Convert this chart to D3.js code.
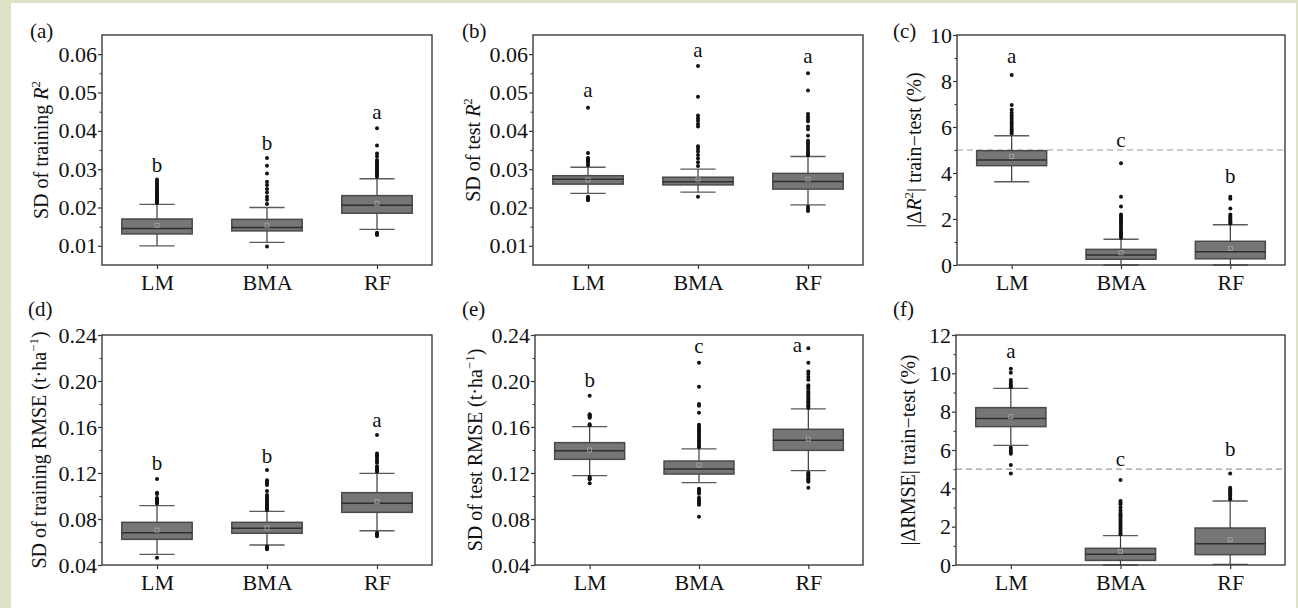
<!DOCTYPE html>
<html>
<head>
<meta charset="utf-8">
<script src="https://cdn.jsdelivr.net/npm/d3@7"></script>
<style>
  body { margin: 0; background: #fff; }
  text { font-family: "Liberation Serif", "Times New Roman", serif; fill: #111; }
</style>
</head>
<body>
<svg id="chart" width="1298" height="608"></svg>
<script>
// Models compared in every panel
const categories = ["LM", "BMA", "RF"];

// Box statistics per model: [lower whisker, Q1, median, Q3, upper whisker, mean]
// (a) SD of training R2
const trainR2Box = [
  [0.0100, 0.0131, 0.0145, 0.0170, 0.0208, 0.0153],
  [0.0109, 0.0139, 0.0148, 0.0169, 0.0200, 0.0154],
  [0.0143, 0.0185, 0.0206, 0.0231, 0.0275, 0.0211]
];
const trainR2Outliers = [
  [0.0273, 0.0268, 0.0263, 0.0258, 0.0254, 0.0250, 0.0247, 0.0244, 0.0241, 0.0238, 0.0235, 0.0232,
   0.0229, 0.0226, 0.0224, 0.0222, 0.0220, 0.0218, 0.0216, 0.0214, 0.0212],
  [0.0329, 0.0309, 0.0289, 0.0267, 0.0259, 0.0248, 0.0239, 0.0228, 0.0220, 0.0209, 0.0098],
  [0.0407, 0.0362, 0.0341, 0.0334, 0.0324, 0.0320, 0.0316, 0.0312, 0.0308, 0.0304, 0.0300, 0.0296,
   0.0292, 0.0288, 0.0284, 0.0280, 0.0134, 0.0131, 0.0128]
];
const trainR2Letters = ["b", "b", "a"];
const trainR2LetterAt = [0.0293, 0.0350, 0.0431];

// (b) SD of test R2
const testR2Box = [
  [0.0237, 0.0261, 0.0274, 0.0283, 0.0305, 0.0272],
  [0.0240, 0.0259, 0.0267, 0.0279, 0.0300, 0.0274],
  [0.0207, 0.0248, 0.0268, 0.0289, 0.0333, 0.0274]
];
const testR2Outliers = [
  [0.0460, 0.0342, 0.0329, 0.0326, 0.0323, 0.0320, 0.0316, 0.0310, 0.0228, 0.0225, 0.0222, 0.0219],
  [0.0569, 0.0489, 0.0440, 0.0433, 0.0426, 0.0418, 0.0411, 0.0360, 0.0353, 0.0346, 0.0337, 0.0328,
   0.0318, 0.0308, 0.0228],
  [0.0550, 0.0505, 0.0444, 0.0437, 0.0431, 0.0425, 0.0411, 0.0404, 0.0387, 0.0374, 0.0369, 0.0363,
   0.0357, 0.0351, 0.0345, 0.0340, 0.0336, 0.0202, 0.0196, 0.0191]
];
const testR2Letters = ["a", "a", "a"];
const testR2LetterAt = [0.0488, 0.0592, 0.0576];

// (c) |dR2| train-test (%)
const diffR2Box = [
  [3.62, 4.32, 4.57, 4.97, 5.62, 4.71],
  [0.00, 0.25, 0.43, 0.68, 1.12, 0.53],
  [0.00, 0.27, 0.58, 1.03, 1.75, 0.72]
];
const diffR2Outliers = [
  [8.26, 6.96, 6.75, 6.62, 6.50, 6.40, 6.30, 6.20, 6.10, 6.00, 5.90, 5.80, 5.72],
  [4.42, 2.97, 2.54, 2.20, 2.12, 2.05, 1.98, 1.90, 1.82, 1.74, 1.66, 1.58, 1.50, 1.42, 1.34, 1.26, 1.18],
  [2.97, 2.88, 2.46, 2.20, 2.13, 2.06, 2.00, 1.93, 1.86, 1.80]
];
const diffR2Letters = ["a", "c", "b"];
const diffR2LetterAt = [8.77, 5.14, 3.55];

// (d) SD of training RMSE (t/ha)
const trainRmseBox = [
  [0.0493, 0.0623, 0.0681, 0.0771, 0.0916, 0.0704],
  [0.0574, 0.0676, 0.0719, 0.0771, 0.0867, 0.0722],
  [0.0698, 0.0858, 0.0937, 0.1029, 0.1197, 0.0951]
];
const trainRmseOutliers = [
  [0.1148, 0.1029, 0.1017, 0.0983, 0.0975, 0.0966, 0.0958, 0.0950, 0.0942, 0.0935, 0.0464],
  [0.1226, 0.1138, 0.1124, 0.1110, 0.1095, 0.1043, 0.1009, 0.0994, 0.0980, 0.0965, 0.0951, 0.0940,
   0.0930, 0.0920, 0.0910, 0.0900, 0.0890, 0.0878, 0.0560, 0.0553, 0.0545, 0.0537],
  [0.1530, 0.1370, 0.1355, 0.1340, 0.1320, 0.1300, 0.1290, 0.1258, 0.1245, 0.1232, 0.1220, 0.1210,
   0.0681, 0.0670, 0.0660, 0.0649]
];
const trainRmseLetters = ["b", "b", "a"];
const trainRmseLetterAt = [0.1226, 0.1290, 0.1597];

// (e) SD of test RMSE (t/ha)
const testRmseBox = [
  [0.1177, 0.1319, 0.1394, 0.1464, 0.1603, 0.1400],
  [0.1116, 0.1191, 0.1235, 0.1304, 0.1409, 0.1270],
  [0.1220, 0.1397, 0.1484, 0.1580, 0.1757, 0.1496]
];
const testRmseOutliers = [
  [0.1872, 0.1711, 0.1703, 0.1695, 0.1688, 0.1680, 0.1625, 0.1615, 0.1168, 0.1155, 0.1145, 0.1110],
  [0.2159, 0.1951, 0.1800, 0.1785, 0.1724, 0.1620, 0.1605, 0.1590, 0.1575, 0.1560, 0.1545, 0.1530,
   0.1515, 0.1500, 0.1485, 0.1470, 0.1455, 0.1440, 0.1425, 0.1064, 0.1050, 0.1035, 0.1020, 0.0985,
   0.0970, 0.0955, 0.0940, 0.0925, 0.0820],
  [0.2284, 0.2159, 0.2083, 0.2060, 0.2035, 0.2010, 0.1962, 0.1948, 0.1936, 0.1913, 0.1900, 0.1885,
   0.1870, 0.1855, 0.1840, 0.1825, 0.1810, 0.1795, 0.1780, 0.1765, 0.1202, 0.1190, 0.1178, 0.1166,
   0.1154, 0.1142, 0.1130, 0.1124, 0.1072]
];
const testRmseLetters = ["b", "c", "a"];
const testRmseLetterAt = [0.1950, 0.2246, 0.2250];

// (f) |dRMSE| train-test (%)
const diffRmseBox = [
  [6.24, 7.22, 7.65, 8.21, 9.22, 7.74],
  [0.00, 0.24, 0.56, 0.87, 1.53, 0.70],
  [0.03, 0.54, 1.11, 1.93, 3.34, 1.32]
];
const diffRmseOutliers = [
  [10.24, 10.03, 9.65, 9.55, 9.45, 9.35, 9.28, 6.12, 6.00, 5.90, 5.80, 5.22, 4.77],
  [4.43, 3.34, 3.25, 3.17, 3.00, 2.85, 2.70, 2.60, 2.50, 2.40, 2.30, 2.20, 2.10, 2.00, 1.90, 1.80, 1.70, 1.60],
  [4.78, 4.03, 3.95, 3.85, 3.77, 3.69, 3.60, 3.50, 3.43]
];
const diffRmseLetters = ["a", "c", "b"];
const diffRmseLetterAt = [10.82, 5.17, 5.69];

// Axis ticks
const sdR2Ticks = [0.01, 0.02, 0.03, 0.04, 0.05, 0.06];
const sdR2Minor = [0.015, 0.025, 0.035, 0.045, 0.055];
const diffR2Ticks = [0, 2, 4, 6, 8, 10];
const diffR2Minor = [1, 3, 5, 7, 9];
const sdRmseTicks = [0.04, 0.08, 0.12, 0.16, 0.20, 0.24];
const sdRmseMinor = [0.06, 0.10, 0.14, 0.18, 0.22];
const diffRmseTicks = [0, 2, 4, 6, 8, 10, 12];
const diffRmseMinor = [1, 3, 5, 7, 9, 11];

// Threshold drawn on the train-test difference panels (%)
const diffThreshold = 5;

// Axis titles as styled runs
const titleTrainR2 = [{t: "SD of training "}, {t: "R", it: true}, {t: "2", sup: true}];
const titleTestR2 = [{t: "SD of test "}, {t: "R", it: true}, {t: "2", sup: true}];
const titleDiffR2 = [{t: "|\u0394"}, {t: "R", it: true}, {t: "2", sup: true}, {t: "| train\u2212test (%)"}];
const titleTrainRmse = [{t: "SD of training RMSE (t\u00b7ha"}, {t: "\u22121", sup: true}, {t: ")"}];
const titleTestRmse = [{t: "SD of test RMSE (t\u00b7ha"}, {t: "\u22121", sup: true}, {t: ")"}];
const titleDiffRmse = [{t: "|\u0394RMSE| train\u2212test (%)"}];

const fmt2 = d3.format(".2f");
const fmt0 = d3.format("d");

const panels = [
  {tag: "(a)", box: trainR2Box, out: trainR2Outliers, letters: trainR2Letters, letterAt: trainR2LetterAt,
   domain: [0.005, 0.065], ticks: sdR2Ticks, minor: sdR2Minor, fmt: fmt2, title: titleTrainR2,
   left: 102, right: 432, top: 35, bottom: 265, titleX: 48, tagX: 30, tagY: 38},
  {tag: "(b)", box: testR2Box, out: testR2Outliers, letters: testR2Letters, letterAt: testR2LetterAt,
   domain: [0.005, 0.065], ticks: sdR2Ticks, minor: sdR2Minor, fmt: fmt2, title: titleTestR2,
   left: 533, right: 863, top: 35, bottom: 265, titleX: 480, tagX: 462, tagY: 38},
  {tag: "(c)", box: diffR2Box, out: diffR2Outliers, letters: diffR2Letters, letterAt: diffR2LetterAt,
   domain: [0, 10], ticks: diffR2Ticks, minor: diffR2Minor, fmt: fmt0, title: titleDiffR2,
   left: 957, right: 1285, top: 35, bottom: 265, titleX: 921, tagX: 893, tagY: 38, threshold: true},
  {tag: "(d)", box: trainRmseBox, out: trainRmseOutliers, letters: trainRmseLetters, letterAt: trainRmseLetterAt,
   domain: [0.04, 0.24], ticks: sdRmseTicks, minor: sdRmseMinor, fmt: fmt2, title: titleTrainRmse,
   left: 102, right: 432, top: 335, bottom: 565, titleX: 46, tagX: 28, tagY: 316},
  {tag: "(e)", box: testRmseBox, out: testRmseOutliers, letters: testRmseLetters, letterAt: testRmseLetterAt,
   domain: [0.04, 0.24], ticks: sdRmseTicks, minor: sdRmseMinor, fmt: fmt2, title: titleTestRmse,
   left: 535, right: 863, top: 335, bottom: 565, titleX: 482, tagX: 462, tagY: 316, letterShift: [0, 0, -11]},
  {tag: "(f)", box: diffRmseBox, out: diffRmseOutliers, letters: diffRmseLetters, letterAt: diffRmseLetterAt,
   domain: [0, 12], ticks: diffRmseTicks, minor: diffRmseMinor, fmt: fmt0, title: titleDiffRmse,
   left: 956, right: 1285, top: 335, bottom: 565, titleX: 915, tagX: 893, tagY: 316, threshold: true}
];

const svg = d3.select("#chart");
svg.append("rect").attr("width", 1298).attr("height", 608).attr("fill", "#dce3c5");
svg.append("rect").attr("x", 11).attr("y", 3).attr("width", 1285).attr("height", 605).attr("fill", "#ffffff");

const FS = 21;
const TICK_FS = 22;

panels.forEach(p => {
  const g = svg.append("g");
  const x = d3.scalePoint().domain(categories).range([p.left, p.right]).padding(0.5);
  const y = d3.scaleLinear().domain(p.domain).range([p.bottom, p.top]);
  const boxW = x.step() * 0.64;
  const capW = boxW / 2;

  if (p.threshold) {
    g.append("line")
      .attr("x1", p.left).attr("x2", p.right)
      .attr("y1", y(diffThreshold)).attr("y2", y(diffThreshold))
      .attr("stroke", "#9a9a9a").attr("stroke-width", 1.2)
      .attr("stroke-dasharray", "6,4");
  }

  categories.forEach((c, i) => {
    const [lo, q1, med, q3, hi, mean] = p.box[i];
    const cx = x(c);
    const bg = g.append("g");
    // whisker stem
    bg.append("line")
      .attr("x1", cx).attr("x2", cx).attr("y1", y(hi)).attr("y2", y(lo))
      .attr("stroke", "#3a3a3a").attr("stroke-width", 1.2);
    // whisker caps
    [lo, hi].forEach(v => {
      bg.append("line")
        .attr("x1", cx - capW / 2).attr("x2", cx + capW / 2)
        .attr("y1", y(v)).attr("y2", y(v))
        .attr("stroke", "#5a5a5a").attr("stroke-width", 1.3);
    });
    // interquartile box
    bg.append("rect")
      .attr("x", cx - boxW / 2).attr("width", boxW)
      .attr("y", y(q3)).attr("height", y(q1) - y(q3))
      .attr("fill", "#767676").attr("stroke", "#4a4a4a").attr("stroke-width", 1.5);
    // median
    bg.append("line")
      .attr("x1", cx - boxW / 2).attr("x2", cx + boxW / 2)
      .attr("y1", y(med)).attr("y2", y(med))
      .attr("stroke", "#2e2e2e").attr("stroke-width", 1.5);
    // mean marker
    bg.append("rect")
      .attr("x", cx - 2).attr("y", y(mean) - 2).attr("width", 4).attr("height", 4)
      .attr("fill", "none").attr("stroke", "#a8a8a8").attr("stroke-width", 0.8);
    // outliers
    bg.selectAll("circle.o").data(p.out[i]).join("circle")
      .attr("class", "o")
      .attr("cx", cx).attr("cy", d => y(d)).attr("r", 2)
      .attr("fill", "#111");
    // significance letter
    const shift = p.letterShift ? p.letterShift[i] : 0;
    bg.append("text")
      .attr("x", cx + shift).attr("y", y(p.letterAt[i]))
      .attr("text-anchor", "middle").attr("font-size", FS)
      .text(p.letters[i]);
  });

  // y axis: major and minor ticks
  const ya = g.append("g").attr("transform", `translate(${p.left},0)`)
    .call(d3.axisLeft(y).tickValues(p.ticks).tickFormat(p.fmt).tickSize(4).tickPadding(1));
  ya.attr("font-family", null).attr("font-size", null);
  ya.select(".domain").remove();
  ya.selectAll("line").attr("stroke", "#333").attr("stroke-width", 1.2);
  ya.selectAll("text").attr("font-size", TICK_FS).attr("fill", "#111");

  const ym = g.append("g").attr("transform", `translate(${p.left},0)`)
    .call(d3.axisLeft(y).tickValues(p.minor).tickFormat("").tickSize(2.5));
  ym.select(".domain").remove();
  ym.selectAll("line").attr("stroke", "#333").attr("stroke-width", 1);

  // x axis
  const xa = g.append("g").attr("transform", `translate(0,${p.bottom})`)
    .call(d3.axisBottom(x).tickSize(4).tickPadding(5));
  xa.attr("font-family", null).attr("font-size", null);
  xa.select(".domain").remove();
  xa.selectAll("line").attr("stroke", "#333").attr("stroke-width", 1.2);
  xa.selectAll("text").attr("font-size", TICK_FS).attr("fill", "#111");

  // plot frame
  g.append("rect")
    .attr("x", p.left).attr("y", p.top)
    .attr("width", p.right - p.left).attr("height", p.bottom - p.top)
    .attr("fill", "none").attr("stroke", "#3c3c3c").attr("stroke-width", 1.4);

  // y axis title
  const t = g.append("text")
    .attr("transform", `translate(${p.titleX},${(p.top + p.bottom) / 2}) rotate(-90)`)
    .attr("text-anchor", "middle").attr("font-size", 20);
  let raised = false;
  p.title.forEach(run => {
    const ts = t.append("tspan").text(run.t);
    if (run.it) ts.attr("font-style", "italic");
    if (run.sup) {
      ts.attr("font-size", 13).attr("dy", -8);
      raised = true;
    } else if (raised) {
      ts.attr("dy", 8);
      raised = false;
    }
  });

  // panel tag
  g.append("text").attr("x", p.tagX).attr("y", p.tagY)
    .attr("font-size", FS).text(p.tag);
});
</script>
</body>
</html>
